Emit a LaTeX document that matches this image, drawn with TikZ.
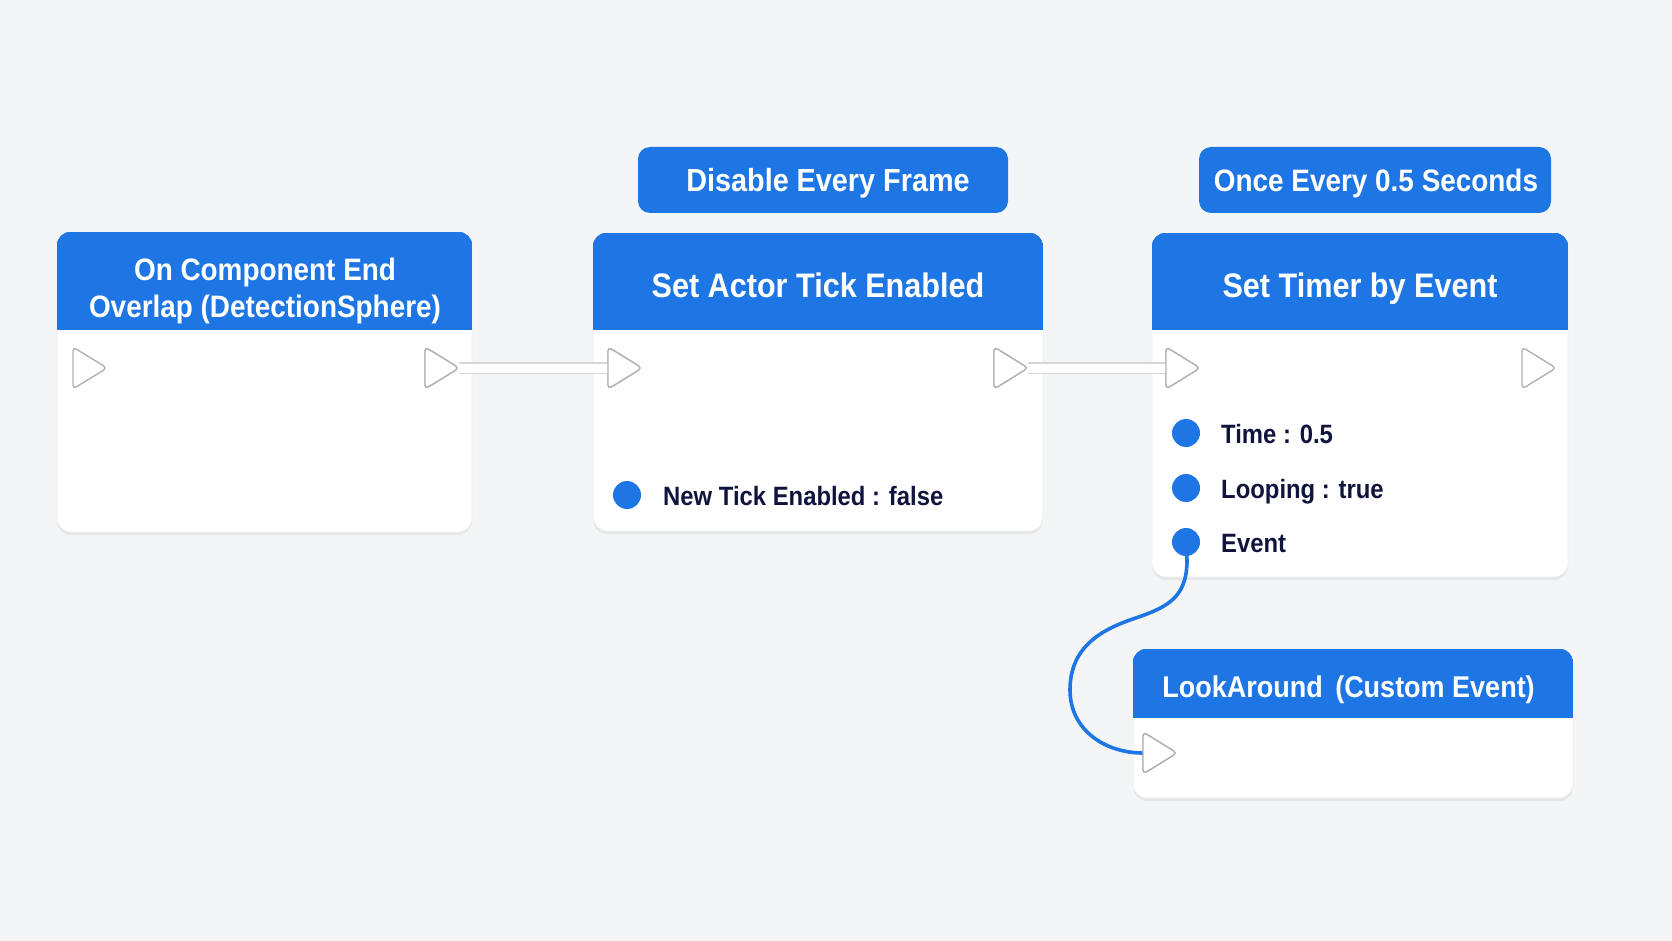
\documentclass[tikz,border=0pt]{standalone}
\usepackage{fontspec}
\setmainfont{Liberation Sans}[FakeStretch=0.9]
\usetikzlibrary{shadows}
\definecolor{bg}{RGB}{244,245,246}
\definecolor{hblue}{RGB}{30,118,228}
\definecolor{navy}{RGB}{16,20,60}
\definecolor{pingray}{RGB}{178,178,178}
\newcommand\hdrfill[2]{\begin{scope}\clip[rounded corners=14pt] (#1.north west) rectangle (#1.south east);\fill[hblue] (#1.north west) rectangle ([yshift=-#2pt]#1.north east);\end{scope}}
\begin{document}
\begin{tikzpicture}[x=1pt,y=-1pt,
  nodebox/.style={fill=white, rounded corners=14pt, inner sep=0pt, draw=black!6, line width=0.6pt,
    drop shadow={shadow xshift=0pt,shadow yshift=-3pt,opacity=0.12}},
  tagbox/.style={fill=hblue, rounded corners=12pt, inner sep=0pt, text=white,
    font=\bfseries\fontsize{32}{36}\selectfont},
  htext/.style={text=white, inner sep=0pt, anchor=base, font=\bfseries\fontsize{34}{38}\selectfont},
  btext/.style={text=navy, inner sep=0pt, anchor=base west, font=\bfseries\fontsize{26.5}{30}\selectfont},
  datapin/.style={circle, fill=hblue, minimum size=28pt, inner sep=0pt},
  pinline/.style={draw=pingray, fill=white, line width=1.4pt, rounded corners=4pt, line join=round},
  execpin/.pic={\draw[pinline] (0,-21) -- (34,0) -- (0,21) -- cycle;
    \coordinate (-base) at (0,0); \coordinate (-tip) at (34,0);},
  execwireback/.style={draw=black!16, line width=12pt},
  execwire/.style={draw=white, line width=9pt},
  datawire/.style={draw=hblue, line width=3.6pt, line cap=round}
]
\fill[bg] (0,0) rectangle (1672,941);
\useasboundingbox (0,0) rectangle (1672,941);

% boxes
\node[nodebox, minimum width=415pt, minimum height=300pt] (n1) at (264.5,382) {};
\node[nodebox, minimum width=450pt, minimum height=298pt] (n2) at (818,382) {};
\node[nodebox, minimum width=416pt, minimum height=344pt] (n3) at (1360,405) {};
\node[nodebox, minimum width=440pt, minimum height=149pt] (n4) at (1353,723.5) {};
\hdrfill{n1}{98}
\hdrfill{n2}{97}
\hdrfill{n3}{97}
\hdrfill{n4}{69}

% tags
\node[tagbox, minimum width=370pt, minimum height=66pt] (tag1) at (823,180) {};
\node[tagbox, minimum width=352pt, minimum height=66pt] (tag2) at (1375,180) {};
\node[htext, font=\bfseries\fontsize{32}{36}\selectfont] (tag1t) at (828,192) {Disable Every Frame};
\node[htext, font=\bfseries\fontsize{31}{36}\selectfont] (tag2t) at (1376,192) {Once Every 0.5 Seconds};

% header texts
\node[htext, font=\bfseries\fontsize{31}{36}\selectfont] (h1a) at (265,280) {On Component End};
\node[htext, font=\bfseries\fontsize{31}{36}\selectfont] (h1b) at (265,317) {Overlap (DetectionSphere)};
\node[htext] (h2) at (818,297) {Set Actor Tick Enabled};
\node[htext] (h3) at (1360,297) {Set Timer by Event};
\node[htext, font=\bfseries\fontsize{30}{36}\selectfont] (h4) at (1348.5,697) {LookAround\hspace{5pt} (Custom Event)};

% data pins and texts
\node[datapin] (d2) at (627,495) {};
\node[btext] (d2t) at (663,505) {New Tick Enabled : false};
\node[datapin] (d3a) at (1186,433) {};
\node[btext] (d3at) at (1221,443) {Time : 0.5};
\node[datapin] (d3b) at (1186,488) {};
\node[btext] (d3bt) at (1221,498) {Looping : true};
\node[datapin] (d3c) at (1186,542) {};
\node[btext] (d3ct) at (1221,552) {Event};

% exec pins
\path (73,368) pic (p1i) {execpin};
\path (425,368) pic (p1o) {execpin};
\path (608,368) pic (p2i) {execpin};
\path (994,368) pic (p2o) {execpin};
\path (1166,368) pic (p3i) {execpin};
\path (1522,368) pic (p3o) {execpin};
\path (1143,753) pic (p4i) {execpin};

% exec connectors
\draw[execwireback] (p1o-tip) -- (p2i-base);
\draw[execwire] (p1o-tip) -- (p2i-base);
\draw[execwireback] (p2o-tip) -- (p3i-base);
\draw[execwire] (p2o-tip) -- (p3i-base);
\path (425,368) pic {execpin};
\path (608,368) pic {execpin};
\path (994,368) pic {execpin};
\path (1166,368) pic {execpin};

% event wire
\draw[datawire] (d3c.center) -- (1187,560) .. controls (1187,600) and (1165,608) .. (1130,620)
  .. controls (1090,634) and (1070,655) .. (1070,690)
  .. controls (1070,730) and (1105,753) .. (p4i-base);
\path (1143,753) pic {execpin};
\end{tikzpicture}
\end{document}
